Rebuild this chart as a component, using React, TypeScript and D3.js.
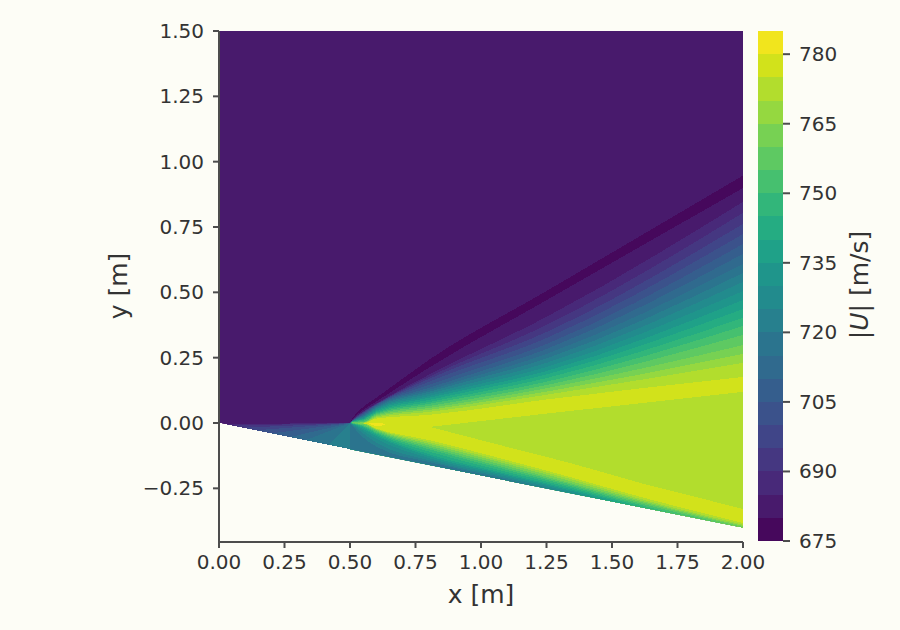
// App.tsx - contour bands of |U| over a wedge

import React from 'react';
import * as d3 from 'd3';

const xTicks = [0, 0.25, 0.5, 0.75, 1, 1.25, 1.5, 1.75, 2];
const yTicks = [-0.25, 0, 0.25, 0.5, 0.75, 1, 1.25, 1.5];
const levelTicks = [675, 690, 705, 720, 735, 750, 765, 780];
const levels = d3.range(675, 790, 5);

const wallSlope = -0.2;
const freeStreamBand = 1;

// contour lines above the wedge: y at each x station, index = band below the line
const upperStations = [0.5, 0.51, 0.55, 0.6, 0.8, 1.25, 2];
const upperIso = [
  [0, 0.018, 0.061, 0.096, 0.241, 0.505, 0.947],
  [0, 0.014, 0.05, 0.082, 0.211, 0.47, 0.899],
  [0, 0.012, 0.044, 0.075, 0.184, 0.406, 0.846],
  [0, 0.011, 0.042, 0.073, 0.176, 0.375, 0.804],
  [0, 0.0105, 0.04, 0.072, 0.168, 0.348, 0.762],
  [0, 0.01, 0.037, 0.07, 0.157, 0.325, 0.723],
  [0, 0.0095, 0.034, 0.068, 0.145, 0.302, 0.685],
  [0, 0.009, 0.031, 0.065, 0.134, 0.283, 0.647],
  [0, 0.0085, 0.028, 0.062, 0.126, 0.264, 0.608],
  [0, 0.008, 0.025, 0.059, 0.119, 0.247, 0.574],
  [0, 0.0075, 0.022, 0.055, 0.111, 0.23, 0.54],
  [0, 0.007, 0.019, 0.052, 0.103, 0.214, 0.505],
  [0, 0.0065, 0.016, 0.048, 0.096, 0.199, 0.471],
  [0, 0.006, 0.014, 0.044, 0.088, 0.186, 0.436],
  [0, 0.005, 0.012, 0.04, 0.08, 0.172, 0.402],
  [0, 0.003, 0.008, 0.036, 0.073, 0.158, 0.371],
  [0, 0.002, 0.003, 0.033, 0.065, 0.145, 0.337],
  [0, 0.0015, 0.002, 0.029, 0.057, 0.133, 0.298],
  [0, 0.001, 0.001, 0.025, 0.05, 0.12, 0.264],
  [0, 0.0005, 0, 0.021, 0.042, 0.108, 0.23],
  [0, 0, -0.001, 0.017, 0.031, 0.09, 0.176],
];

// contour lines near the wall, first row is band 19, last row is band 8
const lowerStations = [0.5, 0.55, 0.6, 0.8, 1.07, 1.34, 1.61, 2];
const lowerIso = [
  [0, -0.001, -0.021, -0.065, -0.134, -0.207, -0.283, -0.383],
  [0, -0.0015, -0.023, -0.072, -0.142, -0.214, -0.291, -0.389],
  [0, -0.002, -0.025, -0.079, -0.149, -0.222, -0.297, -0.394],
  [0, -0.004, -0.028, -0.086, -0.157, -0.23, -0.302, -0.398],
  [0, -0.008, -0.032, -0.093, -0.165, -0.235, -0.308, -0.402],
  [0, -0.011, -0.036, -0.1, -0.172, -0.241, -0.314, -0.41],
  [0, -0.014, -0.04, -0.109, -0.18, -0.247, -0.32, -0.42],
  [0, -0.018, -0.045, -0.119, -0.188, -0.253, -0.325, -0.43],
  [0, -0.023, -0.05, -0.126, -0.193, -0.258, -0.333, -0.44],
  [0, -0.03, -0.06, -0.134, -0.199, -0.264, -0.341, -0.45],
  [0, -0.04, -0.075, -0.142, -0.205, -0.27, -0.35, -0.46],
  [0, -0.055, -0.09, -0.149, -0.21, -0.276, -0.36, -0.47],
];

// ahead of the expansion corner: where each band's ray from the corner meets the wall
const fanBands = [2, 3, 4, 5, 6, 7, 8, 9];
const fanWallX = [0.02, 0.05, 0.09, 0.14, 0.2, 0.27, 0.33, 0.42];

// central plateau and the small peak behind the corner
const plateauBand = 19;
const plateauX = [0.805, 1.25, 2, 2, 1.61, 1.34, 1.07];
const plateauY = [-0.015, 0.036, 0.119, -0.329, -0.23, -0.153, -0.084];
const peakBand = 21;
const peakX = [0.57, 0.62, 0.64, 0.6];
const peakY = [-0.002, 0, -0.008, -0.012];

const ink = '#333333';
const spine = '#4d4d4d';
const paper = '#fdfdf6';
const font = 'DejaVu Sans';

const x = d3.scaleLinear().domain([0, 2]).range([219, 743]);
const y = d3.scaleLinear().domain([0, 1.5]).range([423, 31]);
const cbar = d3.scaleLinear().domain([675, 785]).range([541, 31]);

// contour layers take the colour of their midpoint
const bandColor = (i: number) => d3.interpolateViridis((i + 0.5) / 22);
const poly = d3.line<[number, number]>().x((d) => x(d[0])).y((d) => y(d[1]));
const iso = d3.line<[number, number]>().x((d) => x(d[0])).y((d) => y(d[1])).curve(d3.curveMonotoneX);
const fmt = d3.format('.2f');

const App: React.FC = () => {
  const bottom = -0.5;
  const domainPts: [number, number][] = [[0, 0], [2, 2 * wallSlope], [2, 1.5], [0, 1.5]];

  // each layer paints everything under its line, later layers paint over
  const layer = (stations: number[], row: number[]) => {
    const pts = stations.map((s, i) => [s, row[i]] as [number, number]);
    return `${iso(pts)}L${x(2)},${y(bottom)}L${x(0.5)},${y(bottom)}Z`;
  };

  return (
    <svg width={900} height={630} style={{ position: 'absolute', left: 0, top: 0 }} fontFamily={font}>
      <rect width={900} height={630} fill={paper} />
      <defs>
        <clipPath id="wedge">
          <path d={poly(domainPts) + 'Z'} />
        </clipPath>
      </defs>

      <g clipPath="url(#wedge)" shapeRendering="crispEdges">
        <path d={poly(domainPts) + 'Z'} fill={bandColor(freeStreamBand)} />
        {fanBands.map((b, i) => (
          <path
            key={b}
            d={poly([[0.5, 0], [fanWallX[i], wallSlope * fanWallX[i]], [0.5, wallSlope * 0.5]]) + 'Z'}
            fill={bandColor(b)}
          />
        ))}
        {upperIso.map((row, i) => (
          <path key={i} d={layer(upperStations, row)} fill={bandColor(i)} />
        ))}
        {lowerIso.map((row, i) => (
          <path key={i} d={layer(lowerStations, row)} fill={bandColor(19 - i)} />
        ))}
        <path
          d={poly(plateauX.map((v, i) => [v, plateauY[i]] as [number, number])) + 'Z'}
          fill={bandColor(plateauBand)}
        />
        <path
          d={poly(peakX.map((v, i) => [v, peakY[i]] as [number, number])) + 'Z'}
          fill={bandColor(peakBand)}
        />
      </g>

      {/* axes */}
      <line x1={219} x2={219} y1={31} y2={543} stroke={spine} strokeWidth={2} />
      <line x1={218} x2={743} y1={542} y2={542} stroke={spine} strokeWidth={2} />
      {xTicks.map((t) => (
        <g key={t} transform={`translate(${x(t)},542)`}>
          <line y2={6} stroke={spine} strokeWidth={2} />
          <text y={21} dy="0.32em" textAnchor="middle" fontSize={20} fill={ink}>{fmt(t)}</text>
        </g>
      ))}
      {yTicks.map((t) => (
        <g key={t} transform={`translate(219,${y(t)})`}>
          <line x2={-6} stroke={spine} strokeWidth={2} />
          <text x={-15} dy="0.35em" textAnchor="end" fontSize={20} fill={ink}>{fmt(t)}</text>
        </g>
      ))}
      <text x={481} y={603} textAnchor="middle" fontSize={25} fill={ink}>x [m]</text>
      <text transform="translate(127,286) rotate(-90)" textAnchor="middle" fontSize={25} fill={ink}>y [m]</text>

      {/* colorbar */}
      <g shapeRendering="crispEdges">
        {levels.slice(0, -1).map((l, i) => (
          <rect
            key={l}
            x={758}
            width={25}
            y={cbar(levels[i + 1])}
            height={cbar(l) - cbar(levels[i + 1])}
            fill={bandColor(i)}
          />
        ))}
      </g>
      {levelTicks.map((t) => (
        <g key={t} transform={`translate(783,${cbar(t)})`}>
          <line x2={7} stroke={spine} strokeWidth={2} />
          <text x={16} dy="0.35em" fontSize={20} fill={ink}>{t}</text>
        </g>
      ))}
      <text transform="translate(868,285) rotate(-90)" textAnchor="middle" fontSize={25} fill={ink}>
        |<tspan fontStyle="italic">U</tspan>| [m/s]
      </text>
    </svg>
  );
};

export default App;
